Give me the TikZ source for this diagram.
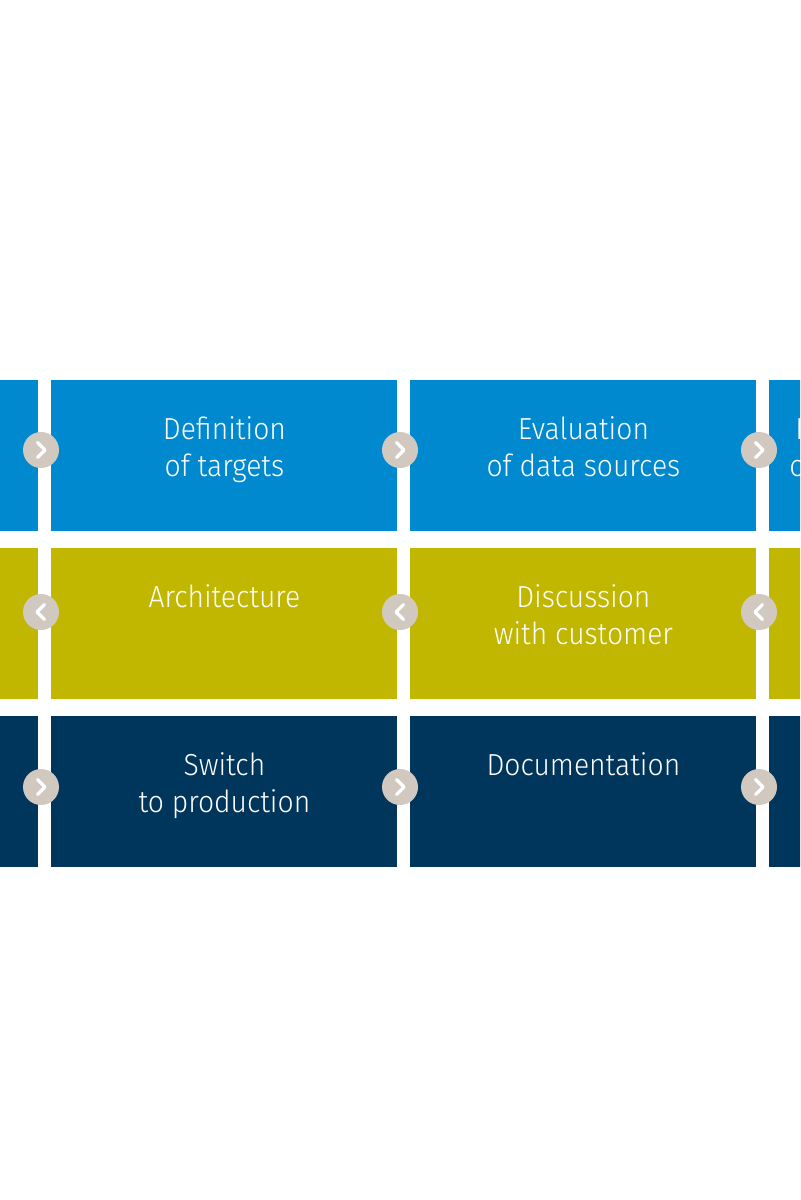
\documentclass[tikz,border=0pt]{standalone}
\usepackage{fontspec}
\setmainfont{Fira Sans}[UprightFont=* Light, FakeStretch=0.93]
\usepackage{tikz}
\usetikzlibrary{positioning,calc}
\definecolor{skyblue}{HTML}{0089CF}
\definecolor{olive}{HTML}{C1B700}
\definecolor{navy}{HTML}{00365B}
\definecolor{pebble}{HTML}{D1C8C0}
\tikzset{
  phasebox/.style={
    rectangle, fill=#1, draw=none, anchor=north west,
    minimum width=173pt, minimum height=75.5pt, inner sep=0pt
  },
  phasebox/.default=skyblue,
  phasetext/.style={
    font=\fontsize{15.2}{18.5}\selectfont, text=white,
    align=center, anchor=base, inner sep=0pt
  },
  navdot/.style={
    circle, fill=pebble, minimum size=18pt, inner sep=0pt
  },
  fwddot/.style={
    navdot, path picture={
      \draw[white, line width=1.6pt, line cap=round, line join=round]
        ([xshift=-1.8pt,yshift=3.8pt]path picture bounding box.center)
        -- ++(3.8pt,-3.8pt) -- ++(-3.8pt,-3.8pt);
    }
  },
  bwddot/.style={
    navdot, path picture={
      \draw[white, line width=1.6pt, line cap=round, line join=round]
        ([xshift=1.8pt,yshift=3.8pt]path picture bounding box.center)
        -- ++(-3.8pt,-3.8pt) -- ++(3.8pt,-3.8pt);
    }
  },
}

\begin{document}
\begin{tikzpicture}[x=0.5pt, y=-0.5pt]
  \fill[white] (0,0) rectangle (800,1200);
  \clip (0,0) rectangle (800,1200);

  % Row 1: planning
  \node[phasebox=skyblue] (planleft) at (-308,380) {};
  \node[phasebox=skyblue] (targets) at (51,380) {};
  \node[phasebox=skyblue] (sources) at (410,380) {};
  \node[phasebox=skyblue] (planright) at (769,380) {};

  % Row 2: design
  \node[phasebox=olive] (designleft) at (-308,548) {};
  \node[phasebox=olive] (arch) at (51,548) {};
  \node[phasebox=olive] (discuss) at (410,548) {};
  \node[phasebox=olive] (designright) at (769,548) {};

  % Row 3: rollout
  \node[phasebox=navy] (rollleft) at (-308,716) {};
  \node[phasebox=navy] (switch) at (51,716) {};
  \node[phasebox=navy] (docs) at (410,716) {};
  \node[phasebox=navy] (rollright) at (769,716) {};

  % Labels (base = last line)
  \node[phasetext] (targetslbl) at ($(targets.north)+(0,96)$) {Definition\\of targets};
  \node[phasetext] (sourceslbl) at ($(sources.north)+(0,96)$) {Evaluation\\of data sources};
  \node[phasetext, anchor=base west] (cutfirst) at (795,439) {I};
  \node[phasetext, anchor=base west] (cutsecond) at (789,476) {c};
  \node[phasetext] (archlbl) at ($(arch.north)+(0,59)$) {Architecture};
  \node[phasetext] (discusslbl) at ($(discuss.north)+(0,96)$) {Discussion\\with customer};
  \node[phasetext] (switchlbl) at ($(switch.north)+(0,96)$) {Switch\\to production};
  \node[phasetext] (docslbl) at ($(docs.north)+(0,59)$) {Documentation};

  % Direction markers
  \node[fwddot] (fwda) at (41,450) {};
  \node[fwddot] (fwdb) at (400,450) {};
  \node[fwddot] (fwdc) at (759,450) {};
  \node[bwddot] (bwda) at (41,612) {};
  \node[bwddot] (bwdb) at (400,612) {};
  \node[bwddot] (bwdc) at (759,612) {};
  \node[fwddot] (fwdd) at (41,787) {};
  \node[fwddot] (fwde) at (400,787) {};
  \node[fwddot] (fwdf) at (759,787) {};
\end{tikzpicture}
\end{document}
